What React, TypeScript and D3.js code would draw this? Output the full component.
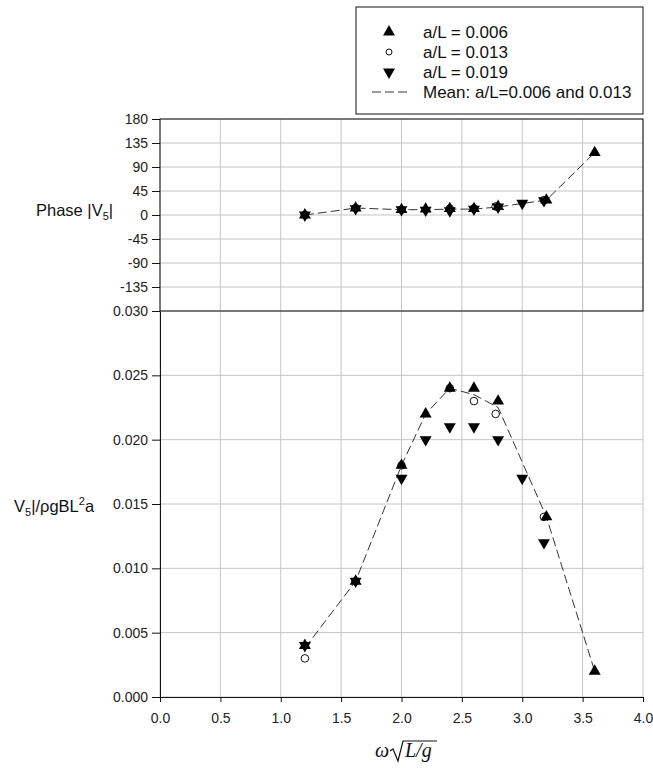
import React, { useEffect, useRef } from "react";
import * as d3 from "d3";

// a/L = 0.006
const x006 = [1.2, 1.62, 2.0, 2.2, 2.4, 2.6, 2.8, 3.2, 3.6];
const amp006 = [0.004, 0.009, 0.018, 0.022, 0.024, 0.024, 0.023, 0.014, 0.002];
const phase006 = [0, 13, 10, 11, 12, 12, 16, 28, 117];

// a/L = 0.013
const x013 = [1.2, 1.62, 2.0, 2.4, 2.6, 2.78, 3.18];
const amp013 = [0.003, 0.009, 0.018, 0.024, 0.023, 0.022, 0.014];
const phase013 = [0, 13, 10, 12, 12, 16, 28];

// a/L = 0.019
const x019 = [1.2, 1.62, 2.0, 2.2, 2.4, 2.6, 2.8, 3.0, 3.18];
const amp019 = [0.004, 0.009, 0.017, 0.02, 0.021, 0.021, 0.02, 0.017, 0.012];
const phase019 = [0, 12, 10, 9, 8, 11, 15, 22, 27];

// mean of 0.006 and 0.013
const xMean = [1.2, 1.62, 2.0, 2.2, 2.4, 2.6, 2.8, 3.2, 3.6];
const ampMean = [0.0038, 0.009, 0.018, 0.022, 0.024, 0.0235, 0.0225, 0.014, 0.002];
const phaseMean = [0, 13, 10, 10, 11, 11, 15, 28, 117];

const xTicks = [0, 0.5, 1, 1.5, 2, 2.5, 3, 3.5, 4];
const phaseTicks = [-135, -90, -45, 0, 45, 90, 135, 180];
const ampTicks = [0, 0.005, 0.01, 0.015, 0.02, 0.025, 0.03];

const legendLabels = ["a/L = 0.006", "a/L = 0.013", "a/L = 0.019", "Mean: a/L=0.006 and 0.013"];

const FONT = "'Liberation Sans', Arial, sans-serif";
const GRID = "#c4c4c4";

export default function App() {
  const svgRef = useRef<SVGSVGElement>(null);

  useEffect(() => {
    if (!svgRef.current) return;
    const svg = d3.select(svgRef.current);
    svg.selectAll("*").remove();

    const left = 160, right = 643;
    const phaseTop = 119, split = 311, ampBottom = 697;

    const x = d3.scaleLinear().domain([0, 4]).range([left, right]);
    const yP = d3.scaleLinear().domain([-180, 180]).range([split, phaseTop]);
    const yA = d3.scaleLinear().domain([0, 0.03]).range([ampBottom, split]);

    // grid
    const grid = svg.append("g").attr("stroke", GRID).attr("stroke-width", 1);
    xTicks.forEach((t) => {
      grid.append("line").attr("x1", x(t)).attr("x2", x(t)).attr("y1", phaseTop).attr("y2", ampBottom);
    });
    phaseTicks.forEach((t) => {
      grid.append("line").attr("x1", left).attr("x2", right).attr("y1", yP(t)).attr("y2", yP(t));
    });
    ampTicks.forEach((t) => {
      grid.append("line").attr("x1", left).attr("x2", right).attr("y1", yA(t)).attr("y2", yA(t));
    });

    // top panel frame
    svg.append("rect")
      .attr("x", left).attr("y", phaseTop)
      .attr("width", right - left).attr("height", split - phaseTop)
      .attr("fill", "none").attr("stroke", "#111").attr("stroke-width", 1);

    // axes
    const styleAxis = (g: d3.Selection<SVGGElement, unknown, null, undefined>) => {
      g.selectAll(".domain").attr("stroke", "#111");
      g.selectAll(".tick line").attr("stroke", "#111");
      g.selectAll(".tick text").style("font-family", FONT).style("font-size", "14px").attr("fill", "#222");
    };

    const gP = svg.append("g").attr("transform", `translate(${left},0)`)
      .call(d3.axisLeft(yP).tickValues(phaseTicks).tickSize(8).tickPadding(4).tickFormat((d) => `${d}`));
    gP.select(".domain").remove();
    styleAxis(gP);

    const gA = svg.append("g").attr("transform", `translate(${left},0)`)
      .call(d3.axisLeft(yA).tickValues(ampTicks).tickSize(8).tickPadding(4).tickSizeOuter(0).tickFormat(d3.format(".3f")));
    styleAxis(gA);

    const gX = svg.append("g").attr("transform", `translate(0,${ampBottom})`)
      .call(d3.axisBottom(x).tickValues(xTicks).tickSize(5).tickPadding(11).tickSizeOuter(0).tickFormat(d3.format(".1f")));
    styleAxis(gX);

    // mean lines
    const lineP = d3.line<number>().x((d, i) => x(xMean[i])).y((d) => yP(d));
    const lineA = d3.line<number>().x((d, i) => x(xMean[i])).y((d) => yA(d));
    [lineP(phaseMean), lineA(ampMean)].forEach((d) => {
      svg.append("path").attr("d", d).attr("fill", "none")
        .attr("stroke", "#333").attr("stroke-width", 1).attr("stroke-dasharray", "9,4");
    });

    const tri = d3.symbol().type(d3.symbolTriangle).size(62)();

    const drawCircles = (xs: number[], ys: number[], ysc: d3.ScaleLinear<number, number>) => {
      xs.forEach((v, i) => {
        svg.append("circle").attr("cx", x(v)).attr("cy", ysc(ys[i])).attr("r", 3.8)
          .attr("fill", "#fff").attr("stroke", "#111").attr("stroke-width", 1);
      });
    };
    const drawTri = (xs: number[], ys: number[], ysc: d3.ScaleLinear<number, number>, down: boolean) => {
      xs.forEach((v, i) => {
        svg.append("path").attr("d", tri)
          .attr("transform", `translate(${x(v)},${ysc(ys[i])})${down ? " rotate(180)" : ""}`)
          .attr("fill", "#000");
      });
    };

    drawCircles(x013, phase013, yP);
    drawCircles(x013, amp013, yA);
    drawTri(x006, phase006, yP, false);
    drawTri(x006, amp006, yA, false);
    drawTri(x019, phase019, yP, true);
    drawTri(x019, amp019, yA, true);

    // legend
    const lg = svg.append("g");
    lg.append("rect").attr("x", 356).attr("y", 7).attr("width", 287).attr("height", 107)
      .attr("fill", "#fff").attr("stroke", "#111").attr("stroke-width", 1);
    legendLabels.forEach((lab, i) => {
      const cy = 32 + i * 20;
      if (i === 0) lg.append("path").attr("d", tri).attr("transform", `translate(389,${cy})`).attr("fill", "#000");
      if (i === 1) lg.append("circle").attr("cx", 389).attr("cy", cy).attr("r", 3).attr("fill", "#fff").attr("stroke", "#111");
      if (i === 2) lg.append("path").attr("d", tri).attr("transform", `translate(389,${cy}) rotate(180)`).attr("fill", "#000");
      if (i === 3) lg.append("line").attr("x1", 372).attr("x2", 408).attr("y1", cy).attr("y2", cy)
        .attr("stroke", "#333").attr("stroke-dasharray", "9,4");
      lg.append("text").attr("x", 423).attr("y", cy + 6).text(lab)
        .style("font-family", FONT).style("font-size", "17px").attr("fill", "#111");
    });

    // y titles
    const tP = svg.append("text").attr("x", 36).attr("y", 216)
      .style("font-family", FONT).style("font-size", "16.5px").attr("fill", "#111");
    tP.append("tspan").text("Phase |V");
    tP.append("tspan").text("5").attr("dy", 4).style("font-size", "11px");
    tP.append("tspan").text("|").attr("dy", -4);

    const tA = svg.append("text").attr("x", 14).attr("y", 512)
      .style("font-family", FONT).style("font-size", "16.5px").attr("fill", "#111");
    tA.append("tspan").text("V");
    tA.append("tspan").text("5").attr("dy", 4).style("font-size", "11px");
    tA.append("tspan").text("|/ρgBL").attr("dy", -4);
    tA.append("tspan").text("2").attr("dy", -7).style("font-size", "11px");
    tA.append("tspan").text("a").attr("dy", 7);

    // x title: omega sqrt(L/g)
    const serif = "'Liberation Serif', 'DejaVu Serif', serif";
    svg.append("text").attr("x", 375).attr("y", 757).text("ω")
      .style("font-family", serif).style("font-style", "italic").style("font-size", "20px").attr("fill", "#111");
    svg.append("path").attr("d", "M390,751 L393,749 L398,761 L403,741 L437,741")
      .attr("fill", "none").attr("stroke", "#111").attr("stroke-width", 1.2);
    svg.append("text").attr("x", 405).attr("y", 757).text("L/g")
      .style("font-family", serif).style("font-style", "italic").style("font-size", "20px").attr("fill", "#111");
  }, []);

  return (
    <svg ref={svgRef} width={653} height={769}
      style={{ position: "absolute", left: 0, top: 0, background: "#fff" }} />
  );
}
